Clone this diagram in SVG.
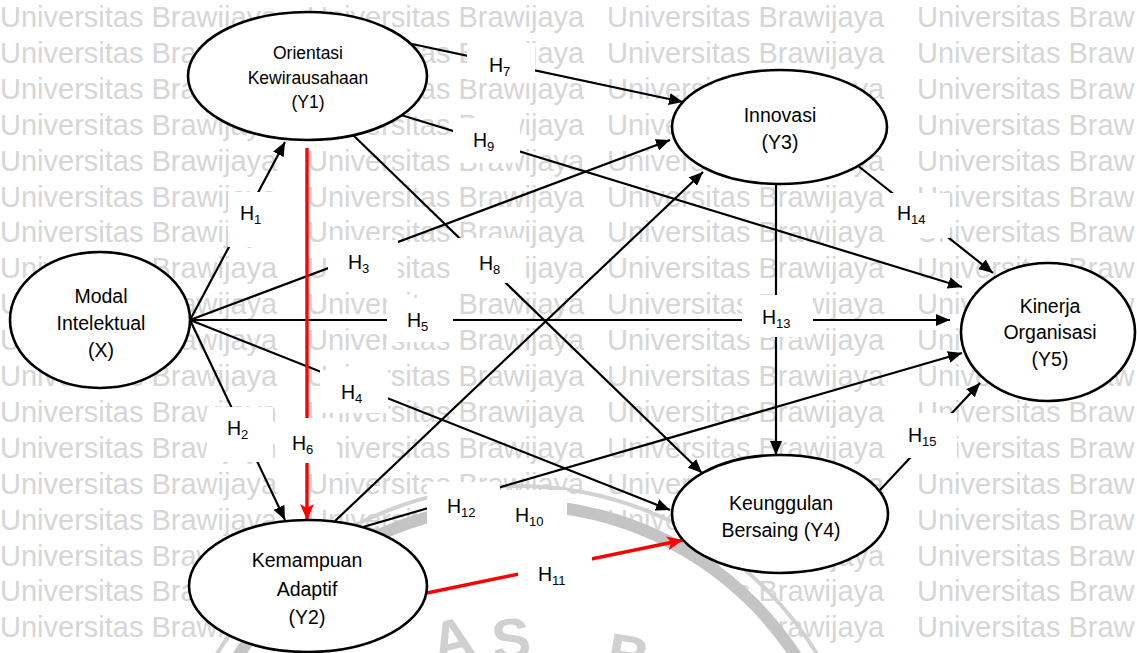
<svg xmlns="http://www.w3.org/2000/svg" width="1137" height="653" viewBox="0 0 1137 653">
  <defs>
    <style>
      .wm{font-family:"Liberation Sans",Arial,sans-serif;font-size:29px;fill:#d6d6d6}
      .seal{fill:none}
      .seal-letter{font-family:"Liberation Sans",Arial,sans-serif;font-size:58px;font-weight:bold;fill:#d0d0d0}
      .node ellipse{fill:#fff;stroke:#000;stroke-width:2.6}
      .node text{font-family:"Liberation Sans",Arial,sans-serif;font-size:19.5px;fill:#000;text-anchor:middle}
      #Y1 text{font-size:17.5px}
      .link{fill:none;stroke:#000;stroke-width:2.2;marker-end:url(#ah)}
      .link.red{stroke:#ff0000;stroke-width:3.4;marker-end:url(#ahr)}
      .lbl rect{fill:#fff}
      .lbl text{font-family:"Liberation Sans",Arial,sans-serif;font-size:19.5px;fill:#000}
      .sub{font-size:13px}
    </style>
    <marker id="ah" markerUnits="userSpaceOnUse" viewBox="0 0 14 12" refX="14" refY="6" markerWidth="14" markerHeight="12" orient="auto">
      <path d="M0,0 L14,6 L0,12 Z" fill="#000"/>
    </marker>
    <marker id="ahr" markerUnits="userSpaceOnUse" viewBox="0 0 16 14" refX="16" refY="7" markerWidth="16" markerHeight="14" orient="auto">
      <path d="M0,0 L16,7 L0,14 L4,7 Z" fill="#ff0000"/>
    </marker>
  </defs>

  <rect width="1137" height="653" fill="#fff"/>

  <!-- background wordmark rows -->
  <g id="wordmark" class="wm">
    <text y="27"><tspan x="0">Universitas Brawijaya</tspan><tspan x="307">Universitas Brawijaya</tspan><tspan x="607">Universitas Brawijaya</tspan><tspan x="917">Universitas Braw</tspan></text>
    <text y="63"><tspan x="0">Universitas Brawijaya</tspan><tspan x="307">Universitas Brawijaya</tspan><tspan x="607">Universitas Brawijaya</tspan><tspan x="917">Universitas Braw</tspan></text>
    <text y="99"><tspan x="0">Universitas Brawijaya</tspan><tspan x="307">Universitas Brawijaya</tspan><tspan x="607">Universitas Brawijaya</tspan><tspan x="917">Universitas Braw</tspan></text>
    <text y="135"><tspan x="0">Universitas Brawijaya</tspan><tspan x="307">Universitas Brawijaya</tspan><tspan x="607">Universitas Brawijaya</tspan><tspan x="917">Universitas Braw</tspan></text>
    <text y="171"><tspan x="0">Universitas Brawijaya</tspan><tspan x="307">Universitas Brawijaya</tspan><tspan x="607">Universitas Brawijaya</tspan><tspan x="917">Universitas Braw</tspan></text>
    <text y="207"><tspan x="0">Universitas Brawijaya</tspan><tspan x="307">Universitas Brawijaya</tspan><tspan x="607">Universitas Brawijaya</tspan><tspan x="917">Universitas Braw</tspan></text>
    <text y="242"><tspan x="0">Universitas Brawijaya</tspan><tspan x="307">Universitas Brawijaya</tspan><tspan x="607">Universitas Brawijaya</tspan><tspan x="917">Universitas Braw</tspan></text>
    <text y="278"><tspan x="0">Universitas Brawijaya</tspan><tspan x="307">Universitas Brawijaya</tspan><tspan x="607">Universitas Brawijaya</tspan><tspan x="917">Universitas Braw</tspan></text>
    <text y="314"><tspan x="0">Universitas Brawijaya</tspan><tspan x="307">Universitas Brawijaya</tspan><tspan x="607">Universitas Brawijaya</tspan><tspan x="917">Universitas Braw</tspan></text>
    <text y="350"><tspan x="0">Universitas Brawijaya</tspan><tspan x="307">Universitas Brawijaya</tspan><tspan x="607">Universitas Brawijaya</tspan><tspan x="917">Universitas Braw</tspan></text>
    <text y="386"><tspan x="0">Universitas Brawijaya</tspan><tspan x="307">Universitas Brawijaya</tspan><tspan x="607">Universitas Brawijaya</tspan><tspan x="917">Universitas Braw</tspan></text>
    <text y="422"><tspan x="0">Universitas Brawijaya</tspan><tspan x="307">Universitas Brawijaya</tspan><tspan x="607">Universitas Brawijaya</tspan><tspan x="917">Universitas Braw</tspan></text>
    <text y="458"><tspan x="0">Universitas Brawijaya</tspan><tspan x="307">Universitas Brawijaya</tspan><tspan x="607">Universitas Brawijaya</tspan><tspan x="917">Universitas Braw</tspan></text>
    <text y="494"><tspan x="0">Universitas Brawijaya</tspan><tspan x="307">Universitas Brawijaya</tspan><tspan x="607">Universitas Brawijaya</tspan><tspan x="917">Universitas Braw</tspan></text>
    <text y="530"><tspan x="0">Universitas Brawijaya</tspan><tspan x="307">Universitas Brawijaya</tspan><tspan x="607">Universitas Brawijaya</tspan><tspan x="917">Universitas Braw</tspan></text>
    <text y="566"><tspan x="0">Universitas Brawijaya</tspan><tspan x="307">Universitas Brawijaya</tspan><tspan x="607">Universitas Brawijaya</tspan><tspan x="917">Universitas Braw</tspan></text>
    <text y="601"><tspan x="0">Universitas Brawijaya</tspan><tspan x="307">Universitas Brawijaya</tspan><tspan x="607">Universitas Brawijaya</tspan><tspan x="917">Universitas Braw</tspan></text>
    <text y="637"><tspan x="0">Universitas Brawijaya</tspan><tspan x="307">Universitas Brawijaya</tspan><tspan x="607">Universitas Brawijaya</tspan><tspan x="917">Universitas Braw</tspan></text>
  </g>

  <!-- faded seal at the bottom edge -->
  <g id="seal">
    <circle cx="517" cy="838" r="327" fill="#fff"/>
    <circle class="seal" cx="517" cy="838" r="333" stroke="#c4c4c4" stroke-width="12"/>
    <circle class="seal" cx="517" cy="838" r="352" stroke="#d2d2d2" stroke-width="4"/>
    <text class="seal-letter" transform="translate(437,664) rotate(-14)">A</text>
    <text class="seal-letter" transform="translate(494,661) rotate(-6)">S</text>
    <text class="seal-letter" transform="translate(604,672) rotate(10)">B</text>
  </g>

  <!-- paths between constructs -->
  <g id="connectors">
    <path id="e-h1" class="link" d="M190,320 L285,142"/>
    <path id="e-h2" class="link" d="M190,320 L285,520"/>
    <path id="e-h3" class="link" d="M190,320 L670,140"/>
    <path id="e-h4" class="link" d="M190,320 L670,510"/>
    <path id="e-h5" class="link" d="M190,320 L950,320"/>
    <path id="e-h6" class="link red" d="M307,148 L307,520"/>
    <path id="e-h7" class="link" d="M412,44 L683,102"/>
    <path id="e-h8" class="link" d="M353,135 L702,473"/>
    <path id="e-h9" class="link" d="M401,115 L962,287"/>
    <path id="e-h10" class="link" d="M335,521 L703,172"/>
    <path id="e-h11" class="link red" d="M427,593 L683,540"/>
    <path id="e-h12" class="link" d="M363,527 L962,353"/>
    <path id="e-h13" class="link" d="M776,184 L776,455"/>
    <path id="e-h14" class="link" d="M857,165 L993,273"/>
    <path id="e-h15" class="link" d="M880,490 L980,383"/>
  </g>

  <!-- hypothesis labels on white plates -->
  <g id="labels" class="lbl">
    <rect x="228" y="192" width="62" height="55"/><text x="240" y="220">H<tspan class="sub" dy="4">1</tspan></text>
    <rect x="207" y="407" width="66" height="55"/><text x="227" y="435">H<tspan class="sub" dy="4">2</tspan></text>
    <rect x="328" y="240" width="70" height="43"/><text x="348" y="269">H<tspan class="sub" dy="4">3</tspan></text>
    <rect x="320" y="370" width="68" height="43"/><text x="341" y="399">H<tspan class="sub" dy="4">4</tspan></text>
    <rect x="387" y="298" width="66" height="44"/><text x="407" y="327">H<tspan class="sub" dy="4">5</tspan></text>
    <rect x="275" y="418" width="62" height="45"/><text x="292" y="450">H<tspan class="sub" dy="4">6</tspan></text>
    <rect x="467" y="43" width="68" height="37"/><text x="489" y="72">H<tspan class="sub" dy="4">7</tspan></text>
    <rect x="458" y="238" width="67" height="45"/><text x="479" y="270">H<tspan class="sub" dy="4">8</tspan></text>
    <rect x="453" y="118" width="67" height="45"/><text x="473" y="147">H<tspan class="sub" dy="4">9</tspan></text>
    <rect x="427" y="482" width="73" height="45"/>
    <rect x="500" y="490" width="67" height="45"/><text x="515" y="522">H<tspan class="sub" dy="4">10</tspan></text>
    <text x="447" y="513">H<tspan class="sub" dy="4">12</tspan></text>
    <rect x="518" y="545" width="74" height="55"/><text x="538" y="581">H<tspan class="sub" dy="4">11</tspan></text>
    <rect x="742" y="295" width="71" height="42"/><text x="762" y="324">H<tspan class="sub" dy="4">13</tspan></text>
    <rect x="890" y="193" width="60" height="45"/><text x="897" y="220">H<tspan class="sub" dy="4">14</tspan></text>
    <rect x="905" y="413" width="52" height="45"/><text x="908" y="442">H<tspan class="sub" dy="4">15</tspan></text>
  </g>

  <!-- constructs -->
  <g id="X" class="node">
    <ellipse cx="100" cy="320" rx="90" ry="68"/>
    <text x="101" y="303">Modal</text>
    <text x="101" y="330">Intelektual</text>
    <text x="101" y="357">(X)</text>
  </g>
  <g id="Y1" class="node">
    <ellipse cx="307.5" cy="76" rx="119.5" ry="64"/>
    <text x="308" y="59">Orientasi</text>
    <text x="308" y="83.5">Kewirausahaan</text>
    <text x="308" y="108">(Y1)</text>
  </g>
  <g id="Y2" class="node">
    <ellipse cx="308" cy="586" rx="119" ry="66"/>
    <text x="307" y="567">Kemampuan</text>
    <text x="307" y="596">Adaptif</text>
    <text x="307" y="624">(Y2)</text>
  </g>
  <g id="Y3" class="node">
    <ellipse cx="779.5" cy="127" rx="107.5" ry="57"/>
    <text x="780" y="122">Innovasi</text>
    <text x="780" y="149">(Y3)</text>
  </g>
  <g id="Y4" class="node">
    <ellipse cx="780" cy="514" rx="108" ry="59"/>
    <text x="781" y="510">Keunggulan</text>
    <text x="781" y="537">Bersaing (Y4)</text>
  </g>
  <g id="Y5" class="node">
    <ellipse cx="1048" cy="332" rx="87" ry="69"/>
    <text x="1050" y="313">Kinerja</text>
    <text x="1050" y="339">Organisasi</text>
    <text x="1050" y="366">(Y5)</text>
  </g>
</svg>
